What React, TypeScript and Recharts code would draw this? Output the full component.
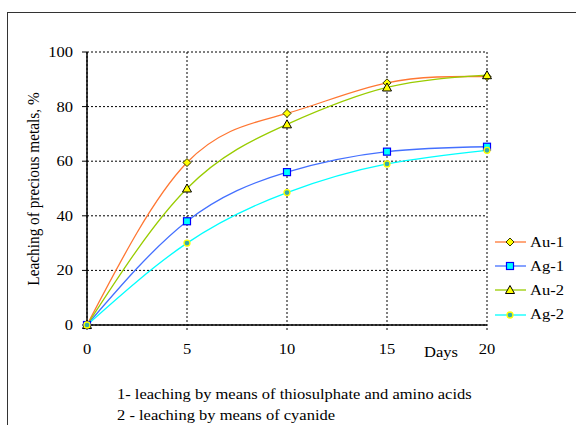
import React from 'react';
import { CartesianGrid, Line, LineChart, XAxis, YAxis } from 'recharts';

const days = [0, 5, 10, 15, 20];
const au1 = [0, 59.5, 77.5, 88.7, 91];
const ag1 = [0, 38, 56, 63.5, 65.3];
const au2 = [0, 50, 73.5, 87, 91.5];
const ag2 = [0, 30, 48.5, 59, 64];
const yTicks = [0, 20, 40, 60, 80, 100];

const data = days.map((d, i) => ({
  day: d,
  au1: au1[i],
  ag1: ag1[i],
  au2: au2[i],
  ag2: ag2[i],
}));

const FONT = '"Liberation Serif", "Times New Roman", serif';
const STRETCH = 1.1;

type Shape = 'diamond' | 'square' | 'triangle' | 'circle';

const Marker = ({ shape, cx, cy }: { shape: Shape; cx: number; cy: number }) => {
  if (shape === 'diamond') {
    return (
      <polygon
        points={`${cx},${cy - 4} ${cx + 4},${cy} ${cx},${cy + 4} ${cx - 4},${cy}`}
        fill='#ffff00'
        stroke='#333300'
        strokeWidth={1}
      />
    );
  }
  if (shape === 'square') {
    return (
      <rect x={cx - 3.5} y={cy - 3.5} width={7} height={7} fill='#00ffff' stroke='#0000ff' strokeWidth={1.2} />
    );
  }
  if (shape === 'triangle') {
    return (
      <polygon
        points={`${cx},${cy - 4.5} ${cx + 4.5},${cy + 3.5} ${cx - 4.5},${cy + 3.5}`}
        fill='#ffff00'
        stroke='#000000'
        strokeWidth={1}
      />
    );
  }
  return <circle cx={cx} cy={cy} r={3} fill='#33aaaa' stroke='#ffff00' strokeWidth={1.3} />;
};

const series = [
  { key: 'au1', name: 'Au-1', color: '#ff7733', shape: 'diamond' as Shape },
  { key: 'ag1', name: 'Ag-1', color: '#4470ff', shape: 'square' as Shape },
  { key: 'au2', name: 'Au-2', color: '#99cc00', shape: 'triangle' as Shape },
  { key: 'ag2', name: 'Ag-2', color: '#00ffff', shape: 'circle' as Shape },
];

// Times-like text, a bit wider than normal as in the source picture
const StretchTick = ({ x, y, payload, anchor, dy }: any) => (
  <g transform={`translate(${x},${y}) scale(${STRETCH},1)`}>
    <text x={0} y={0} dy={dy} textAnchor={anchor} fill='#000' fontSize={15} fontFamily={FONT}>
      {payload.value}
    </text>
  </g>
);

const stretched: React.CSSProperties = {
  transform: `scaleX(${STRETCH})`,
  transformOrigin: 'left center',
};

export default function App() {
  return (
    <div style={{ position: 'absolute', left: 0, top: 0, width: 576, height: 425, overflow: 'hidden', background: '#fff' }}>
      <div
        style={{
          position: 'absolute',
          left: 7,
          top: 12,
          width: 600,
          height: 440,
          border: '1.5px solid #333',
        }}
      />
      <div style={{ position: 'absolute', left: 0, top: 0 }}>
        <LineChart
          width={576}
          height={425}
          data={data}
          margin={{ top: 52, right: 89, bottom: 70, left: 47 }}
        >
          <CartesianGrid stroke='#000' strokeDasharray='2 2' strokeWidth={1} />
          <XAxis
            dataKey='day'
            type='number'
            domain={[0, 20]}
            ticks={days}
            height={30}
            tickSize={5}
            tickMargin={14}
            axisLine={{ stroke: '#000', strokeWidth: 1.5 }}
            tickLine={{ stroke: '#000', strokeDasharray: '2 2' }}
            tick={(p: any) => <StretchTick {...p} anchor='middle' dy={10} />}
          />
          <YAxis
            type='number'
            domain={[0, 100]}
            ticks={yTicks}
            width={40}
            tickSize={5}
            tickMargin={9}
            axisLine={{ stroke: '#000', strokeWidth: 1.5 }}
            tickLine={{ stroke: '#000' }}
            tick={(p: any) => <StretchTick {...p} anchor='end' dy={5} />}
          />
          {series.map((s) => (
            <Line
              key={s.key}
              dataKey={s.key}
              name={s.name}
              type='natural'
              stroke={s.color}
              strokeWidth={1.3}
              isAnimationActive={false}
              dot={(p: any) => <Marker key={`${s.key}-${p.index}`} shape={s.shape} cx={p.cx} cy={p.cy} />}
              activeDot={false}
            />
          ))}
        </LineChart>
      </div>
      <div
        style={{
          position: 'absolute',
          left: 33,
          top: 189,
          transform: 'translate(-50%, -50%) rotate(-90deg) scaleY(1.1)',
          whiteSpace: 'nowrap',
          fontFamily: FONT,
          fontSize: 15.3,
          color: '#000',
        }}
      >
        Leaching of precious metals, %
      </div>
      <div
        style={{
          position: 'absolute',
          left: 424,
          top: 344,
          fontFamily: FONT,
          fontSize: 15,
          color: '#000',
          ...stretched,
        }}
      >
        Days
      </div>
      <div style={{ position: 'absolute', left: 495, top: 230, fontFamily: FONT, fontSize: 15, color: '#000' }}>
        {series.map((s) => (
          <div key={s.key} style={{ display: 'flex', alignItems: 'center', height: 24.2 }}>
            <svg width={33} height={12} style={{ marginRight: 2 }}>
              <line x1={0} y1={6} x2={31} y2={6} stroke={s.color} strokeWidth={1.3} />
              <Marker shape={s.shape} cx={15} cy={6} />
            </svg>
            <span style={{ display: 'inline-block', ...stretched }}>{s.name}</span>
          </div>
        ))}
      </div>
      <div
        style={{
          position: 'absolute',
          left: 117,
          top: 384,
          fontFamily: FONT,
          fontSize: 15,
          lineHeight: '21px',
          color: '#000',
          whiteSpace: 'nowrap',
          ...stretched,
        }}
      >
        <div>1- leaching by means of thiosulphate and amino acids</div>
        <div>2 - leaching by means of cyanide</div>
      </div>
    </div>
  );
}
